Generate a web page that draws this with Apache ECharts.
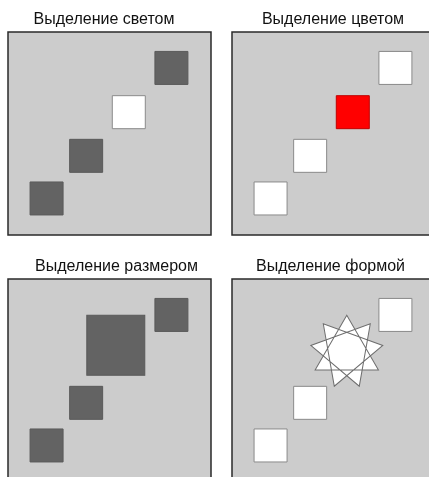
<!DOCTYPE html>
<html><head><meta charset="utf-8">
<script src="https://cdn.jsdelivr.net/npm/echarts@6/dist/echarts.min.js"></script>
<style>html,body{margin:0;padding:0;background:#fff}#c{width:429px;height:477px}</style>
</head><body><div id="c"></div>
<script>
// ---- data ----
const panelTitles = ['Выделение светом', 'Выделение цветом', 'Выделение размером', 'Выделение формой'];
const xValues = [19, 38.5, 59.5, 80.5];
const yValues = [18, 39, 60.5, 82.3];
const highlightIndex = 2;

// ---- styles / layout ----
const DARK = '#636363', WHITE = '#ffffff', RED = '#ff0000';
const grids = [
  {left: 8, top: 32}, {left: 232, top: 32}, {left: 8, top: 279}, {left: 232, top: 279}
];
const titleCenters = [[104, 12], [333, 12], [116.5, 259], [330.5, 259]];

// 9-pointed star made of three triangles
function starPath() {
  const pts = [];
  for (let k = 0; k < 9; k++) {
    const a = (90 + 40 * k) * Math.PI / 180;
    pts.push([50 + 50 * Math.cos(a), 50 - 50 * Math.sin(a)]);
  }
  let d = '';
  for (let j = 0; j < 3; j++) {
    const a = pts[j], b = pts[j + 3], c = pts[j + 6];
    d += 'M' + a[0].toFixed(2) + ' ' + a[1].toFixed(2) + ' L' + b[0].toFixed(2) + ' ' + b[1].toFixed(2) + ' L' + c[0].toFixed(2) + ' ' + c[1].toFixed(2) + ' Z ';
  }
  return 'path://' + d;
}

function itemFor(panel, i) {
  const base = {value: [xValues[i], yValues[i]], symbol: 'rect', symbolSize: 33};
  const hl = i === highlightIndex;
  const whiteStyle = {color: WHITE, borderColor: '#8a8a8a', borderWidth: 1, opacity: 1};
  const darkStyle = {color: DARK, borderColor: '#5a5a5a', borderWidth: 1, opacity: 1};
  if (panel === 0) {
    base.itemStyle = hl ? whiteStyle : darkStyle;
  } else if (panel === 1) {
    base.itemStyle = hl ? {color: RED, borderColor: '#c00000', borderWidth: 1, opacity: 1} : whiteStyle;
  } else if (panel === 2) {
    base.itemStyle = darkStyle;
    if (hl) { base.symbolSize = [58, 60]; base.symbolOffset = [-13, -14]; }
  } else {
    base.itemStyle = whiteStyle;
    if (hl) {
      base.symbol = starPath(); base.symbolSize = [72, 71]; base.symbolOffset = [-6, -8.5];
      base.itemStyle = {color: WHITE, borderColor: '#6e6e6e', borderWidth: 1, opacity: 1};
    }
  }
  return base;
}

const option = {
  animation: false,
  backgroundColor: '#ffffff',
  title: panelTitles.map((t, p) => ({
    text: t, left: titleCenters[p][0], top: titleCenters[p][1], textAlign: 'center',
    padding: 0,
    textStyle: {fontFamily: 'Liberation Sans, Arial, sans-serif', fontSize: 16, fontWeight: 'normal', color: '#111'}
  })),
  grid: grids.map(g => ({
    left: g.left, top: g.top, width: 203, height: 203, show: true,
    outerBoundsMode: 'none', containLabel: false,
    backgroundColor: '#cccccc', borderColor: '#2a2a2a', borderWidth: 1.5
  })),
  xAxis: grids.map((g, p) => ({type: 'value', gridIndex: p, min: 0, max: 100, show: false})),
  yAxis: grids.map((g, p) => ({type: 'value', gridIndex: p, min: 0, max: 100, show: false})),
  series: grids.map((g, p) => ({
    type: 'scatter', xAxisIndex: p, yAxisIndex: p, silent: true,
    data: xValues.map((x, i) => itemFor(p, i)),
    z: 2
  }))
};
const chart = echarts.init(document.getElementById('c'), null, {renderer: 'canvas'});
chart.setOption(option);
</script></body></html>
